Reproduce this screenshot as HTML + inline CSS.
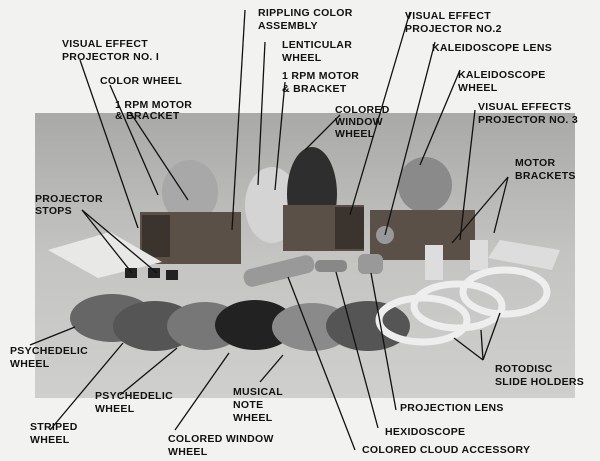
<!DOCTYPE html><html><head><style>
html,body{margin:0;padding:0;background:#f2f2f0;}
svg{display:block}
text{font-family:"Liberation Sans",sans-serif;font-weight:bold;font-size:10.5px;fill:#111;letter-spacing:0.3px}
</style></head><body>
<svg width="600" height="461" viewBox="0 0 600 461" xmlns="http://www.w3.org/2000/svg">
<defs><linearGradient id="g" x1="0" y1="0" x2="0" y2="1"><stop offset="0" stop-color="#a9a9a7"/><stop offset="0.5" stop-color="#c4c4c2"/><stop offset="1" stop-color="#cfcfcd"/></linearGradient></defs>
<rect width="600" height="461" fill="#f2f2f0"/>
<rect x="35" y="113" width="540" height="285" fill="url(#g)"/>
<!-- wheels top -->
<ellipse cx="190" cy="192" rx="28" ry="32" fill="#a8a8a8"/>
<ellipse cx="272" cy="205" rx="27" ry="38" fill="#d4d4d4"/>
<ellipse cx="312" cy="194" rx="25" ry="47" fill="#2e2e2e"/>
<ellipse cx="425" cy="185" rx="27" ry="28" fill="#8a8a8a"/>
<!-- projectors -->
<rect x="140" y="212" width="101" height="52" fill="#5a5048"/>
<rect x="142" y="215" width="28" height="42" fill="#3a332e"/>
<rect x="283" y="205" width="81" height="46" fill="#5a5048"/>
<rect x="335" y="207" width="29" height="42" fill="#3a332e"/>
<rect x="370" y="210" width="105" height="50" fill="#5a5048"/>
<circle cx="385" cy="235" r="9" fill="#999"/>
<!-- papers -->
<polygon points="48,250 110,232 162,262 98,278" fill="#e8e8e6"/>
<rect x="125" y="268" width="12" height="10" fill="#222"/><rect x="148" y="268" width="12" height="10" fill="#222"/><rect x="166" y="270" width="12" height="10" fill="#222"/>
<polygon points="500,240 560,250 552,270 488,258" fill="#ddd"/>
<rect x="425" y="245" width="18" height="35" fill="#ddd"/><rect x="470" y="240" width="18" height="30" fill="#ddd"/>
<!-- lenses -->
<rect x="243" y="262" width="72" height="18" rx="8" fill="#999" transform="rotate(-14 279 271)"/>
<rect x="315" y="260" width="32" height="12" rx="5" fill="#888"/>
<rect x="358" y="254" width="25" height="20" rx="6" fill="#999"/>
<!-- bottom wheels -->
<ellipse cx="112" cy="318" rx="42" ry="24" fill="#666"/>
<ellipse cx="155" cy="326" rx="42" ry="25" fill="#555"/>
<ellipse cx="205" cy="326" rx="38" ry="24" fill="#777"/>
<ellipse cx="255" cy="325" rx="40" ry="25" fill="#222"/>
<ellipse cx="312" cy="327" rx="40" ry="24" fill="#8a8a8a"/>
<ellipse cx="368" cy="326" rx="42" ry="25" fill="#555"/>
<ellipse cx="423" cy="320" rx="44" ry="22" fill="none" stroke="#eee" stroke-width="7"/>
<ellipse cx="458" cy="306" rx="44" ry="22" fill="none" stroke="#eee" stroke-width="7"/>
<ellipse cx="505" cy="292" rx="42" ry="22" fill="none" stroke="#eee" stroke-width="7"/>
<!-- leader lines -->
<g stroke="#111" stroke-width="1.3" fill="none">
<path d="M80 60 L138 228"/><path d="M110 85 L158 195"/><path d="M130 112 L188 200"/>
<path d="M245 10 L232 230"/><path d="M265 42 L258 185"/><path d="M285 82 L275 190"/>
<path d="M340 115 L305 150"/><path d="M410 12 L350 215"/><path d="M435 42 L385 235"/>
<path d="M460 70 L420 165"/><path d="M475 110 L460 240"/>
<path d="M508 177 L452 243"/><path d="M508 177 L494 233"/>
<path d="M82 210 L132 273"/><path d="M82 210 L157 273"/>
<path d="M30 345 L75 327"/><path d="M50 430 L123 343"/><path d="M120 395 L177 348"/>
<path d="M175 430 L229 353"/><path d="M260 382 L283 355"/>
<path d="M355 450 L288 277"/><path d="M378 428 L336 272"/><path d="M396 410 L371 273"/>
<path d="M483 360 L454 338"/><path d="M483 360 L481 330"/><path d="M483 360 L500 313"/>
</g>
<text x="62" y="47">VISUAL EFFECT</text><text x="62" y="60">PROJECTOR NO. I</text>
<text x="100" y="84">COLOR WHEEL</text>
<text x="115" y="108">1 RPM MOTOR</text><text x="115" y="119">&amp; BRACKET</text>
<text x="258" y="16">RIPPLING COLOR</text><text x="258" y="29">ASSEMBLY</text>
<text x="282" y="48">LENTICULAR</text><text x="282" y="61">WHEEL</text>
<text x="282" y="79">1 RPM MOTOR</text><text x="282" y="92">&amp; BRACKET</text>
<text x="335" y="113">COLORED</text><text x="335" y="125">WINDOW</text><text x="335" y="137">WHEEL</text>
<text x="405" y="19">VISUAL EFFECT</text><text x="405" y="32">PROJECTOR NO.2</text>
<text x="432" y="51">KALEIDOSCOPE LENS</text>
<text x="458" y="78">KALEIDOSCOPE</text><text x="458" y="91">WHEEL</text>
<text x="478" y="110">VISUAL EFFECTS</text><text x="478" y="123">PROJECTOR NO. 3</text>
<text x="515" y="166">MOTOR</text><text x="515" y="179">BRACKETS</text>
<text x="35" y="202">PROJECTOR</text><text x="35" y="214">STOPS</text>
<text x="10" y="354">PSYCHEDELIC</text><text x="10" y="367">WHEEL</text>
<text x="95" y="399">PSYCHEDELIC</text><text x="95" y="412">WHEEL</text>
<text x="30" y="430">STRIPED</text><text x="30" y="443">WHEEL</text>
<text x="233" y="395">MUSICAL</text><text x="233" y="408">NOTE</text><text x="233" y="421">WHEEL</text>
<text x="168" y="442">COLORED WINDOW</text><text x="168" y="455">WHEEL</text>
<text x="495" y="372">ROTODISC</text><text x="495" y="385">SLIDE HOLDERS</text>
<text x="400" y="411">PROJECTION LENS</text>
<text x="385" y="435">HEXIDOSCOPE</text>
<text x="362" y="453">COLORED CLOUD ACCESSORY</text>
</svg>
</body></html>
